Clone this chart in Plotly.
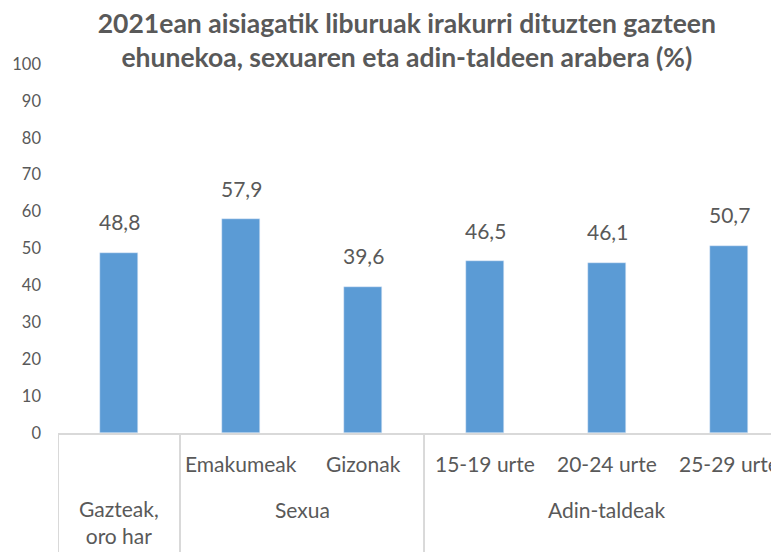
import plotly.graph_objects as go

categories = ["Gazteak, oro har", "Emakumeak", "Gizonak", "15-19 urte", "20-24 urte", "25-29 urte"]
values = [48.8, 57.9, 39.6, 46.5, 46.1, 50.7]
groups = ["Sexua", "Adin-taldeak"]
group_members = [[1, 2], [3, 4, 5]]
y_ticks = [0, 10, 20, 30, 40, 50, 60, 70, 80, 90, 100]

FONT = "Lato, 'Open Sans', sans-serif"
GREY = "#595959"
LINE = "#d9d9d9"
idx = list(range(len(categories)))

fig = go.Figure()
fig.add_trace(go.Bar(x=idx, y=values, marker_color="#5B9BD5", width=0.31,
                     hoverinfo="skip"))

annotations = []
# data labels
for i, v in zip(idx, values):
    annotations.append(dict(x=i, y=v, xref="x", yref="y",
                            text=f"{v:.1f}".replace(".", ","), showarrow=False,
                            yanchor="middle", yshift=31,
                            font=dict(family=FONT, size=21, color=GREY)))
# first-level category labels (inside groups)
for members in group_members:
    for i in members:
        annotations.append(dict(x=i, y=0, xref="x", yref="paper",
                                text=categories[i], showarrow=False,
                                yanchor="middle", yshift=-30,
                                font=dict(family=FONT, size=21, color=GREY)))
# standalone category (spans both levels, wrapped)
annotations.append(dict(x=0, y=0, xref="x", yref="paper",
                        text="Gazteak,<br>oro har", showarrow=False,
                        yanchor="middle", yshift=-89,
                        font=dict(family=FONT, size=21, color=GREY)))
# group labels
for g, members in zip(groups, group_members):
    annotations.append(dict(x=sum(members) / len(members), y=0, xref="x", yref="paper",
                            text=g, showarrow=False,
                            yanchor="middle", yshift=-76,
                            font=dict(family=FONT, size=21, color=GREY)))

shapes = []
# separators between category groups
for xb in [-0.5, 0.5, 2.5]:
    shapes.append(dict(type="line", xref="x", yref="paper", x0=xb, x1=xb,
                       y0=0, y1=-0.4, line=dict(color=LINE, width=2)))

fig.update_layout(
    width=779, height=552,
    margin=dict(l=50, r=0, t=56, b=127),
    plot_bgcolor="white", paper_bgcolor="white",
    showlegend=False,
    title=dict(text="<b>2021ean aisiagatik liburuak irakurri dituzten gazteen<br>ehunekoa, sexuaren eta adin-taldeen arabera (%)</b>",
               x=0.512, xanchor="center", y=0.955, yanchor="top",
               font=dict(family=FONT, size=26.5, color=GREY)),
    xaxis=dict(range=[-0.5, 5.475], showticklabels=False, showgrid=False,
               zeroline=False, showline=True, linecolor=LINE, linewidth=2,
               ticks=""),
    yaxis=dict(range=[0, 100], tickvals=y_ticks, showgrid=False, zeroline=False,
               showline=False, ticks="", ticklabelstandoff=16,
               tickfont=dict(family=FONT, size=16.5, color=GREY)),
    annotations=annotations,
    shapes=shapes,
    bargap=0,
)

fig.write_html("out.html")
